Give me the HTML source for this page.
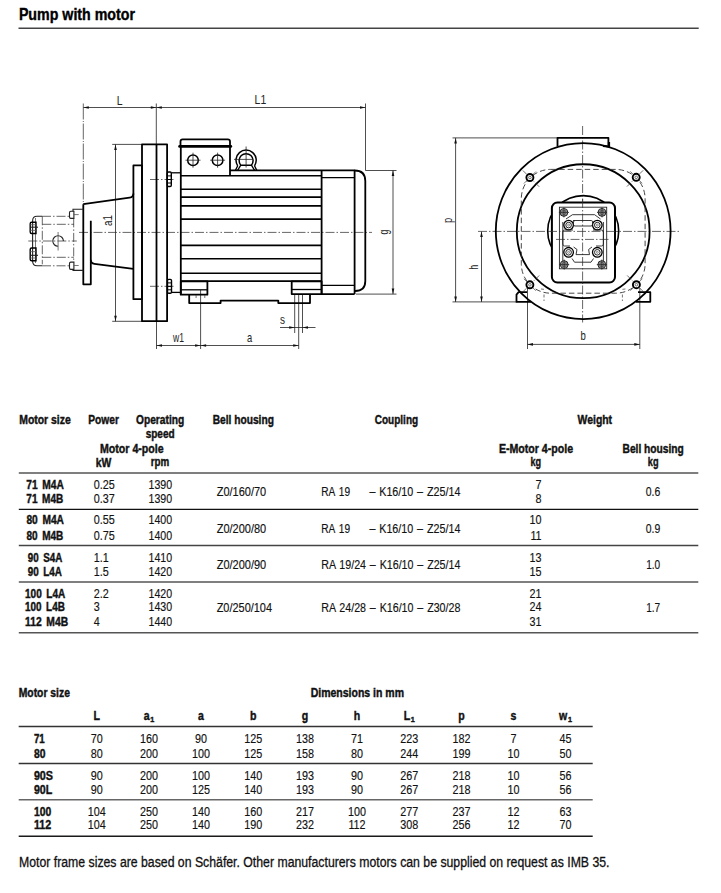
<!DOCTYPE html>
<html><head><meta charset="utf-8"><style>
html,body{margin:0;padding:0;background:#fff;}
svg{display:block;}
text{font-family:"Liberation Sans",sans-serif;}
</style></head><body>
<svg width="721" height="893" viewBox="0 0 721 893">
<rect width="721" height="893" fill="#fff"/>
<line x1="83.3" y1="107.5" x2="156.3" y2="107.5" stroke="#222" stroke-width="0.8" fill="none"/>
<polygon points="83.30,107.50 88.80,106.20 88.80,108.80" fill="#111"/>
<polygon points="156.30,107.50 150.80,106.20 150.80,108.80" fill="#111"/>
<line x1="156.3" y1="107.5" x2="365.5" y2="107.5" stroke="#222" stroke-width="0.8" fill="none"/>
<polygon points="156.30,107.50 161.80,106.20 161.80,108.80" fill="#111"/>
<polygon points="365.50,107.50 360.00,106.20 360.00,108.80" fill="#111"/>
<line x1="83.3" y1="103.5" x2="83.3" y2="204" stroke="#333" stroke-width="0.75" fill="none" stroke-dasharray="16 1.5 1 1.5"/>
<line x1="156.3" y1="103.5" x2="156.3" y2="144.4" stroke="#222" stroke-width="0.8" fill="none"/>
<line x1="365.5" y1="103.5" x2="365.5" y2="170.5" stroke="#222" stroke-width="0.8" fill="none"/>
<text x="116.70" y="104.7" font-size="13" textLength="5.80" lengthAdjust="spacingAndGlyphs" fill="#222">L</text>
<text x="254.60" y="104.4" font-size="13" textLength="11.60" lengthAdjust="spacingAndGlyphs" fill="#222">L1</text>
<line x1="112.2" y1="144.4" x2="142" y2="144.4" stroke="#222" stroke-width="0.8" fill="none"/>
<line x1="112.2" y1="321.3" x2="142" y2="321.3" stroke="#222" stroke-width="0.8" fill="none"/>
<line x1="115.5" y1="144.4" x2="115.5" y2="321.3" stroke="#222" stroke-width="0.8" fill="none"/>
<polygon points="115.50,144.40 114.20,149.90 116.80,149.90" fill="#111"/>
<polygon points="115.50,321.30 114.20,315.80 116.80,315.80" fill="#111"/>
<text transform="translate(111.9,226.0) rotate(-90)" x="0.00" y="0" font-size="13" textLength="11.00" lengthAdjust="spacingAndGlyphs" fill="#222">a1</text>
<line x1="365.5" y1="170.5" x2="396.5" y2="170.5" stroke="#222" stroke-width="0.8" fill="none"/>
<line x1="356" y1="294.1" x2="396.5" y2="294.1" stroke="#222" stroke-width="0.8" fill="none"/>
<line x1="393" y1="170.5" x2="393" y2="294.1" stroke="#222" stroke-width="0.8" fill="none"/>
<polygon points="393.00,170.50 391.70,176.00 394.30,176.00" fill="#111"/>
<polygon points="393.00,294.10 391.70,288.60 394.30,288.60" fill="#111"/>
<text transform="translate(388.2,234.6) rotate(-90)" x="0.00" y="0" font-size="13" textLength="4.80" lengthAdjust="spacingAndGlyphs" fill="#222">g</text>
<line x1="156.5" y1="321.2" x2="156.5" y2="349" stroke="#222" stroke-width="0.8" fill="none"/>
<line x1="200.6" y1="290" x2="200.6" y2="349" stroke="#222" stroke-width="0.8" fill="none"/>
<line x1="298.7" y1="294" x2="298.7" y2="349" stroke="#222" stroke-width="0.8" fill="none"/>
<line x1="156.5" y1="345.5" x2="298.7" y2="345.5" stroke="#222" stroke-width="0.8" fill="none"/>
<polygon points="156.50,345.50 162.00,344.20 162.00,346.80" fill="#111"/>
<polygon points="200.60,345.50 195.10,344.20 195.10,346.80" fill="#111"/>
<polygon points="200.60,345.50 206.10,344.20 206.10,346.80" fill="#111"/>
<polygon points="298.70,345.50 293.20,344.20 293.20,346.80" fill="#111"/>
<text x="173.02" y="342.0" font-size="13" textLength="10.99" lengthAdjust="spacingAndGlyphs" fill="#222">w1</text>
<text x="247.00" y="342.0" font-size="13" textLength="5.19" lengthAdjust="spacingAndGlyphs" fill="#222">a</text>
<line x1="294.7" y1="294.1" x2="294.7" y2="333" stroke="#222" stroke-width="0.8" fill="none"/>
<line x1="302.5" y1="294.1" x2="302.5" y2="333" stroke="#222" stroke-width="0.8" fill="none"/>
<line x1="280" y1="327.5" x2="315.5" y2="327.5" stroke="#222" stroke-width="0.8" fill="none"/>
<polygon points="294.70,327.50 289.20,326.20 289.20,328.80" fill="#111"/>
<polygon points="302.50,327.50 308.00,326.20 308.00,328.80" fill="#111"/>
<text x="280.00" y="324.0" font-size="13" textLength="5.00" lengthAdjust="spacingAndGlyphs" fill="#222">s</text>
<line x1="79" y1="232.4" x2="372" y2="232.4" stroke="#333" stroke-width="0.75" fill="none" stroke-dasharray="9 2 1.5 2"/>
<line x1="150" y1="179.5" x2="174" y2="179.5" stroke="#333" stroke-width="0.75" fill="none" stroke-dasharray="9 2 1.5 2"/>
<line x1="150" y1="286.3" x2="174" y2="286.3" stroke="#333" stroke-width="0.75" fill="none" stroke-dasharray="9 2 1.5 2"/>
<rect x="142" y="144.4" width="25.10" height="176.80" stroke="#000" stroke-width="1.8" fill="none" stroke-linejoin="round" />
<line x1="156.5" y1="144.4" x2="156.5" y2="321.2" stroke="#000" stroke-width="1.8" fill="none" stroke-linejoin="round"/>
<rect x="133.4" y="165.4" width="8.60" height="133.80" stroke="#000" stroke-width="1.8" fill="none" stroke-linejoin="round" />
<path d="M83.3 204.2 L129.6 197.7 Q133.4 197.2 133.4 193.5" stroke="#000" stroke-width="1.8" fill="none" stroke-linejoin="round"/>
<path d="M90.8 259.8 Q90.8 263.4 94.4 263.8 L133.4 268.8" stroke="#000" stroke-width="1.8" fill="none" stroke-linejoin="round"/>
<path d="M83.3 204.2 L83.3 284.3 L90.8 284.3 L90.8 220.7" stroke="#000" stroke-width="1.8" fill="none" stroke-linejoin="round"/>
<rect x="167.3" y="172" width="4" height="14.5" rx="1.2" stroke="#000" stroke-width="1.4" fill="none"/>
<line x1="167.3" y1="175.9" x2="171.3" y2="175.9" stroke="#000" stroke-width="1.0"/>
<line x1="167.3" y1="179.5" x2="171.3" y2="179.5" stroke="#000" stroke-width="1.0"/>
<line x1="167.3" y1="183.0" x2="171.3" y2="183.0" stroke="#000" stroke-width="1.0"/>
<line x1="171.3" y1="172.8" x2="180.5" y2="172.8" stroke="#000" stroke-width="1.3" fill="none"/>
<rect x="167.5" y="279.4" width="4" height="13.8" rx="1.2" stroke="#000" stroke-width="1.4" fill="none"/>
<line x1="167.5" y1="282.9" x2="171.5" y2="282.9" stroke="#000" stroke-width="1.0"/>
<line x1="167.5" y1="286.4" x2="171.5" y2="286.4" stroke="#000" stroke-width="1.0"/>
<line x1="167.5" y1="289.8" x2="171.5" y2="289.8" stroke="#000" stroke-width="1.0"/>
<line x1="171.5" y1="292.4" x2="180.5" y2="292.4" stroke="#000" stroke-width="1.3" fill="none"/>
<path d="M73.9 211.2 L70.8 211.2 Q69.5 211.2 69.5 212.5 L69.5 217.1 Q69.5 218.4 70.8 218.4 L73.9 218.4 Z" stroke="#222" stroke-width="1.1" fill="none"/>
<path d="M73 211.2 L73 209.2 L83.3 209.2" stroke="#222" stroke-width="1.1" fill="none"/>
<line x1="73.9" y1="214.6" x2="78.7" y2="214.6" stroke="#555" stroke-width="0.8" fill="none"/>
<path d="M73.9 262.1 L70.8 262.1 Q69.5 262.1 69.5 263.4 L69.5 268.1 Q69.5 269.4 70.8 269.4 L73.9 269.4 Z" stroke="#222" stroke-width="1.1" fill="none"/>
<path d="M73 269.4 L73 270.4 L83.3 270.4" stroke="#222" stroke-width="1.1" fill="none"/>
<line x1="73.9" y1="265.5" x2="78.7" y2="265.5" stroke="#555" stroke-width="0.8" fill="none"/>
<path d="M42 216.3 L37 216.3 Q32.6 216.3 32.6 221 L32.6 261 Q32.6 265.8 37 265.8 L42 265.8" stroke="#222" stroke-width="1.1" fill="none"/>
<line x1="42" y1="216.3" x2="69.5" y2="216.3" stroke="#333" stroke-width="0.75" fill="none" stroke-dasharray="9 2 1.5 2"/>
<line x1="42" y1="265.8" x2="69.5" y2="265.8" stroke="#333" stroke-width="0.75" fill="none" stroke-dasharray="9 2 1.5 2"/>
<line x1="35.5" y1="218" x2="35.5" y2="263" stroke="#555" stroke-width="0.8" fill="none"/>
<line x1="42.3" y1="216.3" x2="42.3" y2="264.3" stroke="#333" stroke-width="0.75" fill="none" stroke-dasharray="9 2 1.5 2"/>
<line x1="73.7" y1="218.4" x2="73.7" y2="262.1" stroke="#333" stroke-width="0.75" fill="none" stroke-dasharray="9 2 1.5 2"/>
<line x1="42.3" y1="224.3" x2="73.9" y2="224.3" stroke="#333" stroke-width="0.75" fill="none" stroke-dasharray="9 2 1.5 2"/>
<line x1="42.3" y1="257.3" x2="73.9" y2="257.3" stroke="#333" stroke-width="0.75" fill="none" stroke-dasharray="9 2 1.5 2"/>
<line x1="28.3" y1="241" x2="76.8" y2="241" stroke="#333" stroke-width="0.75" fill="none" stroke-dasharray="9 2 1.5 2"/>
<path d="M63.4 241 A5.3 5.3 0 1 0 58.1 246.3" stroke="#222" stroke-width="1.1" fill="none"/>
<line x1="58.1" y1="232" x2="58.1" y2="250.5" stroke="#555" stroke-width="0.8" fill="none"/>
<path d="M36 222.3 L31.6 222.3 Q30.2 222.3 30.2 223.8 L30.2 232.0 Q30.2 233.5 31.6 233.5 L36 233.5 Z" stroke="#000" stroke-width="1.4" fill="none"/>
<line x1="30.2" y1="227.2" x2="38" y2="227.2" stroke="#222" stroke-width="1.1" fill="none"/>
<line x1="30.2" y1="224.75" x2="36" y2="224.75" stroke="#555" stroke-width="0.8" fill="none"/>
<line x1="30.2" y1="230.35" x2="36" y2="230.35" stroke="#555" stroke-width="0.8" fill="none"/>
<path d="M36 248 L31.6 248 Q30.2 248 30.2 249.5 L30.2 259.2 Q30.2 260.7 31.6 260.7 L36 260.7 Z" stroke="#000" stroke-width="1.4" fill="none"/>
<line x1="30.2" y1="255.3" x2="38" y2="255.3" stroke="#222" stroke-width="1.1" fill="none"/>
<line x1="30.2" y1="251.65" x2="36" y2="251.65" stroke="#555" stroke-width="0.8" fill="none"/>
<line x1="30.2" y1="258.0" x2="36" y2="258.0" stroke="#555" stroke-width="0.8" fill="none"/>
<path d="M180.5 146.4 L180.5 141.6 Q180.5 139.4 182.7 139.4 L227.8 139.4 Q230 139.4 230 141.6 L230 146.4" stroke="#000" stroke-width="1.8" fill="none" stroke-linejoin="round"/>
<line x1="179.6" y1="146.4" x2="230.8" y2="146.4" stroke="#000" stroke-width="2.8" stroke-linecap="round"/>
<line x1="230" y1="146.4" x2="230" y2="175.6" stroke="#000" stroke-width="1.8" fill="none" stroke-linejoin="round"/>
<circle cx="193" cy="160.2" r="5.3" stroke="#000" stroke-width="1.5" fill="none" />
<line x1="185.5" y1="160.2" x2="200.5" y2="160.2" stroke="#222" stroke-width="0.8" fill="none"/>
<line x1="193" y1="152.7" x2="193" y2="167.7" stroke="#222" stroke-width="0.8" fill="none"/>
<circle cx="217.6" cy="160.2" r="5.3" stroke="#000" stroke-width="1.5" fill="none" />
<line x1="210.1" y1="160.2" x2="225.1" y2="160.2" stroke="#222" stroke-width="0.8" fill="none"/>
<line x1="217.6" y1="152.7" x2="217.6" y2="167.7" stroke="#222" stroke-width="0.8" fill="none"/>
<path d="M237.7 165.8 A10.1 10.1 0 1 1 254.5 165.8" stroke="#000" stroke-width="1.5" fill="none"/>
<path d="M240.8 165.2 A7 7 0 1 1 251.4 165.2 Z" stroke="#000" stroke-width="1.5" fill="none"/>
<path d="M235.4 170.4 L237.7 165.8 M256.8 170.4 L254.5 165.8 M237.6 170.4 L240.8 165.2 M254.6 170.4 L251.4 165.2" stroke="#000" stroke-width="1.3" fill="none"/>
<line x1="246.1" y1="146.5" x2="246.1" y2="167.5" stroke="#222" stroke-width="0.8" fill="none"/>
<line x1="234" y1="159.4" x2="252" y2="159.4" stroke="#222" stroke-width="0.8" fill="none"/>
<line x1="180.8" y1="146.4" x2="180.8" y2="294.7" stroke="#000" stroke-width="1.8" fill="none" stroke-linejoin="round"/>
<line x1="230" y1="170.3" x2="355" y2="170.3" stroke="#000" stroke-width="1.8" fill="none" stroke-linejoin="round"/>
<line x1="180.8" y1="175.8" x2="321.6" y2="175.8" stroke="#000" stroke-width="1.6"/>
<line x1="180.8" y1="189.3" x2="321.6" y2="189.3" stroke="#000" stroke-width="1.6"/>
<line x1="180.8" y1="197.1" x2="321.6" y2="197.1" stroke="#000" stroke-width="1.6"/>
<line x1="180.8" y1="205.9" x2="321.6" y2="205.9" stroke="#000" stroke-width="1.6"/>
<line x1="180.8" y1="219.1" x2="321.6" y2="219.1" stroke="#000" stroke-width="1.6"/>
<line x1="180.8" y1="245.4" x2="321.6" y2="245.4" stroke="#000" stroke-width="1.6"/>
<line x1="180.8" y1="258.8" x2="321.6" y2="258.8" stroke="#000" stroke-width="1.6"/>
<line x1="180.8" y1="273.3" x2="321.6" y2="273.3" stroke="#000" stroke-width="1.6"/>
<line x1="180.8" y1="281.1" x2="321.6" y2="281.1" stroke="#000" stroke-width="1.6"/>
<line x1="321.6" y1="170.5" x2="321.6" y2="294.1" stroke="#000" stroke-width="1.8" fill="none" stroke-linejoin="round"/>
<line x1="354.6" y1="170.5" x2="354.6" y2="294.1" stroke="#000" stroke-width="1.8" fill="none" stroke-linejoin="round"/>
<line x1="321.6" y1="177.6" x2="354.6" y2="177.6" stroke="#000" stroke-width="1.3" fill="none"/>
<line x1="321.6" y1="285.3" x2="354.6" y2="285.3" stroke="#000" stroke-width="1.3" fill="none"/>
<line x1="321.6" y1="294.1" x2="354.6" y2="294.1" stroke="#000" stroke-width="1.8" fill="none" stroke-linejoin="round"/>
<path d="M354.6 170.5 Q365.3 170.5 365.3 181 L365.3 281 Q365.3 291 355 291" stroke="#000" stroke-width="1.8" fill="none" stroke-linejoin="round"/>
<rect x="180.8" y="281.3" width="26.60" height="13.40" stroke="#000" stroke-width="1.8" fill="none" stroke-linejoin="round" />
<line x1="180.8" y1="289.8" x2="207.4" y2="289.8" stroke="#000" stroke-width="1.3" fill="none"/>
<rect x="291.7" y="281.3" width="29.90" height="12.80" stroke="#000" stroke-width="1.8" fill="none" stroke-linejoin="round" />
<line x1="291.7" y1="289.5" x2="321.6" y2="289.5" stroke="#000" stroke-width="1.3" fill="none"/>
<path d="M189.2 294.7 L189.2 303.1 L220.6 303.1 L220.6 300.6 L278.3 300.6 L278.3 303.1 L310 303.1 L310 294.1" stroke="#000" stroke-width="1.8" fill="none" stroke-linejoin="round"/>
<line x1="196.1" y1="295" x2="196.1" y2="300" stroke="#444" stroke-width="0.75" fill="none" stroke-dasharray="3 2"/>
<line x1="204.8" y1="295" x2="204.8" y2="300" stroke="#444" stroke-width="0.75" fill="none" stroke-dasharray="3 2"/>
<line x1="452.5" y1="137.9" x2="557.5" y2="137.9" stroke="#222" stroke-width="0.8" fill="none"/>
<line x1="452.5" y1="301.9" x2="516.5" y2="301.9" stroke="#222" stroke-width="0.8" fill="none"/>
<line x1="455.6" y1="137.9" x2="455.6" y2="301.9" stroke="#222" stroke-width="0.8" fill="none"/>
<polygon points="455.60,137.90 454.30,143.40 456.90,143.40" fill="#111"/>
<polygon points="455.60,301.90 454.30,296.40 456.90,296.40" fill="#111"/>
<text transform="translate(451.8,223.0) rotate(-90)" x="0.00" y="0" font-size="13" textLength="5.20" lengthAdjust="spacingAndGlyphs" fill="#222">p</text>
<line x1="481.5" y1="231.5" x2="481.5" y2="301.9" stroke="#222" stroke-width="0.8" fill="none"/>
<polygon points="481.50,231.50 480.20,237.00 482.80,237.00" fill="#111"/>
<polygon points="481.50,301.90 480.20,296.40 482.80,296.40" fill="#111"/>
<text transform="translate(477.6,269.7) rotate(-90)" x="0.00" y="0" font-size="13" textLength="5.00" lengthAdjust="spacingAndGlyphs" fill="#222">h</text>
<line x1="527.5" y1="288" x2="527.5" y2="349" stroke="#222" stroke-width="0.8" fill="none"/>
<line x1="639.8" y1="288" x2="639.8" y2="349" stroke="#222" stroke-width="0.8" fill="none"/>
<line x1="527.5" y1="344.4" x2="639.8" y2="344.4" stroke="#222" stroke-width="0.8" fill="none"/>
<polygon points="527.50,344.40 533.00,343.10 533.00,345.70" fill="#111"/>
<polygon points="639.80,344.40 634.30,343.10 634.30,345.70" fill="#111"/>
<text x="580.60" y="340.4" font-size="13" textLength="5.30" lengthAdjust="spacingAndGlyphs" fill="#222">b</text>
<line x1="478" y1="231.4" x2="681" y2="231.4" stroke="#333" stroke-width="0.75" fill="none" stroke-dasharray="9 2 1.5 2"/>
<line x1="582.6" y1="126" x2="582.6" y2="322.5" stroke="#333" stroke-width="0.75" fill="none" stroke-dasharray="9 2 1.5 2"/>
<path d="M527 292.2 L518.6 292.2 L516.5 294.6 L516.5 301.9 L531 301.9" stroke="#000" stroke-width="1.8" fill="none" stroke-linejoin="round"/>
<path d="M638 292.2 L650.3 292.2 L650.3 301.8 L636 301.8" stroke="#000" stroke-width="1.8" fill="none" stroke-linejoin="round"/>
<path d="M544 294.5 L544 301 M541 289 L546 289.5 M622.4 294.5 L622.4 301 M625.4 289 L620.4 289.5" stroke="#444" stroke-width="0.75" fill="none" stroke-dasharray="3 2"/>
<path d="M557.5 146.6 L557.5 137.8 L608.4 137.8 L608.4 145.8" stroke="#000" stroke-width="1.8" fill="none" stroke-linejoin="round"/>
<path d="M603 146 L609 146.5 L609 142" stroke="#000" stroke-width="2.2" fill="none"/>
<ellipse cx="583.2" cy="231.1" rx="87.4" ry="88.0" stroke="#000" stroke-width="1.8" fill="none" stroke-linejoin="round"/>
<ellipse cx="583.2" cy="231.2" rx="66.4" ry="66.95" stroke="#000" stroke-width="1.8" fill="none" stroke-linejoin="round"/>
<rect x="521.3" y="169.4" width="123.8" height="123.8" rx="29.4" ry="29.4" stroke="#333" stroke-width="0.9" fill="none" stroke-dasharray="5.5 3"/>
<circle cx="583.2" cy="231.1" r="35.5" stroke="#000" stroke-width="1.6" fill="none" />
<path d="M522.9 170.5 L539.9 187.5" stroke="#333" stroke-width="0.7" stroke-dasharray="5 1.5 1 1.5"/>
<path d="M535.9 171.5 L523.9 183.5" stroke="#444" stroke-width="0.7"/>
<circle cx="529.9" cy="177.5" r="3.5" stroke="#000" stroke-width="1.9" fill="#fff" />
<circle cx="529.9" cy="177.5" r="1.3" stroke="#333" stroke-width="0.7" fill="none" />
<path d="M643.2 170.3 L626.2 187.3" stroke="#333" stroke-width="0.7" stroke-dasharray="5 1.5 1 1.5"/>
<path d="M630.2 171.3 L642.2 183.3" stroke="#444" stroke-width="0.7"/>
<circle cx="636.2" cy="177.3" r="3.5" stroke="#000" stroke-width="1.9" fill="#fff" />
<circle cx="636.2" cy="177.3" r="1.3" stroke="#333" stroke-width="0.7" fill="none" />
<path d="M522.9 291.8 L539.9 274.8" stroke="#333" stroke-width="0.7" stroke-dasharray="5 1.5 1 1.5"/>
<path d="M535.9 290.8 L523.9 278.8" stroke="#444" stroke-width="0.7"/>
<circle cx="529.9" cy="284.8" r="3.5" stroke="#000" stroke-width="1.9" fill="#fff" />
<circle cx="529.9" cy="284.8" r="1.3" stroke="#333" stroke-width="0.7" fill="none" />
<path d="M643.4 291.7 L626.4 274.7" stroke="#333" stroke-width="0.7" stroke-dasharray="5 1.5 1 1.5"/>
<path d="M630.4 290.7 L642.4 278.7" stroke="#444" stroke-width="0.7"/>
<circle cx="636.4" cy="284.7" r="3.5" stroke="#000" stroke-width="1.9" fill="#fff" />
<circle cx="636.4" cy="284.7" r="1.3" stroke="#333" stroke-width="0.7" fill="none" />
<rect x="551.9" y="202.5" width="63.1" height="80" rx="5.5" stroke="#000" stroke-width="2" fill="#fff"/>
<rect x="559.4" y="207.2" width="47.30" height="61.60" stroke="#222" stroke-width="0.9" fill="none" />
<line x1="562.8" y1="222" x2="562.8" y2="262" stroke="#222" stroke-width="0.9" fill="none"/>
<line x1="603.4" y1="222" x2="603.4" y2="262" stroke="#222" stroke-width="0.9" fill="none"/>
<line x1="582.6" y1="199" x2="582.6" y2="286" stroke="#333" stroke-width="0.75" fill="none" stroke-dasharray="9 2 1.5 2"/>
<line x1="548" y1="231.4" x2="618" y2="231.4" stroke="#333" stroke-width="0.75" fill="none" stroke-dasharray="9 2 1.5 2"/>
<line x1="556" y1="239.4" x2="610" y2="239.4" stroke="#333" stroke-width="0.75" fill="none" stroke-dasharray="9 2 1.5 2"/>
<circle cx="563.9" cy="212.4" r="3.9" stroke="#222" stroke-width="1.0" fill="#aaa" />
<circle cx="563.9" cy="212.4" r="2.2" stroke="#444" stroke-width="0.7" fill="none" />
<path d="M561.1 209.6 L566.6999999999999 215.20000000000002 M561.1 215.20000000000002 L566.6999999999999 209.6" stroke="#555" stroke-width="0.5"/>
<line x1="558.9" y1="212.4" x2="568.9" y2="212.4" stroke="#222" stroke-width="0.8" fill="none"/>
<line x1="563.9" y1="207.4" x2="563.9" y2="217.4" stroke="#222" stroke-width="0.8" fill="none"/>
<circle cx="602.0" cy="212.4" r="3.9" stroke="#222" stroke-width="1.0" fill="#aaa" />
<circle cx="602.0" cy="212.4" r="2.2" stroke="#444" stroke-width="0.7" fill="none" />
<path d="M599.2 209.6 L604.8 215.20000000000002 M599.2 215.20000000000002 L604.8 209.6" stroke="#555" stroke-width="0.5"/>
<line x1="597.0" y1="212.4" x2="607.0" y2="212.4" stroke="#222" stroke-width="0.8" fill="none"/>
<line x1="602.0" y1="207.4" x2="602.0" y2="217.4" stroke="#222" stroke-width="0.8" fill="none"/>
<circle cx="564.2" cy="264.6" r="3.9" stroke="#222" stroke-width="1.0" fill="#aaa" />
<circle cx="564.2" cy="264.6" r="2.2" stroke="#444" stroke-width="0.7" fill="none" />
<path d="M561.4000000000001 261.8 L567.0 267.40000000000003 M561.4000000000001 267.40000000000003 L567.0 261.8" stroke="#555" stroke-width="0.5"/>
<line x1="559.2" y1="264.6" x2="569.2" y2="264.6" stroke="#222" stroke-width="0.8" fill="none"/>
<line x1="564.2" y1="259.6" x2="564.2" y2="269.6" stroke="#222" stroke-width="0.8" fill="none"/>
<circle cx="601.8" cy="264.6" r="3.9" stroke="#222" stroke-width="1.0" fill="#aaa" />
<circle cx="601.8" cy="264.6" r="2.2" stroke="#444" stroke-width="0.7" fill="none" />
<path d="M599.0 261.8 L604.5999999999999 267.40000000000003 M599.0 267.40000000000003 L604.5999999999999 261.8" stroke="#555" stroke-width="0.5"/>
<line x1="596.8" y1="264.6" x2="606.8" y2="264.6" stroke="#222" stroke-width="0.8" fill="none"/>
<line x1="601.8" y1="259.6" x2="601.8" y2="269.6" stroke="#222" stroke-width="0.8" fill="none"/>
<circle cx="568.6" cy="225.1" r="4.8" stroke="#000" stroke-width="1.3" fill="none" />
<circle cx="568.6" cy="225.1" r="2.8" stroke="#222" stroke-width="1.0" fill="none" />
<circle cx="568.6" cy="225.1" r="1.0" stroke="#444" stroke-width="0.6" fill="none" />
<circle cx="597.3" cy="225.1" r="4.8" stroke="#000" stroke-width="1.3" fill="none" />
<circle cx="597.3" cy="225.1" r="2.8" stroke="#222" stroke-width="1.0" fill="none" />
<circle cx="597.3" cy="225.1" r="1.0" stroke="#444" stroke-width="0.6" fill="none" />
<circle cx="568.6" cy="252.3" r="4.8" stroke="#000" stroke-width="1.3" fill="none" />
<circle cx="568.6" cy="252.3" r="2.8" stroke="#222" stroke-width="1.0" fill="none" />
<circle cx="568.6" cy="252.3" r="1.0" stroke="#444" stroke-width="0.6" fill="none" />
<circle cx="597.3" cy="252.3" r="4.8" stroke="#000" stroke-width="1.3" fill="none" />
<circle cx="597.3" cy="252.3" r="2.8" stroke="#222" stroke-width="1.0" fill="none" />
<circle cx="597.3" cy="252.3" r="1.0" stroke="#444" stroke-width="0.6" fill="none" />
<path d="M566 219 L572.5 214.7 L594.6 214.7 L600.5 219 M573 220.5 L591.5 220.5 Q592.5 220.5 592.5 222 L592.5 224.6 Q592.5 226 591 226 L575 226 Q573.5 226 573.5 224.6 L573.5 222 Q573.5 220.5 575 220.5" stroke="#222" stroke-width="0.9" fill="none"/>
<path d="M573 230 L564.5 230 Q562.8 230 562.8 232 L562.8 244 Q562.8 246 564.5 246 L570 246 M593 230 L601.5 230 Q603.4 230 603.4 232 L603.4 244 Q603.4 246 601.5 246 L596 246" stroke="#222" stroke-width="0.9" fill="none"/>
<path d="M573.6 247 L577 249.5 L576 254.6 L589.5 254.6 L588.6 249.5 L592 247" stroke="#222" stroke-width="0.9" fill="none"/>
<path d="M572 258.5 L574.5 262.2 L591 262.2 L593.5 258.5" stroke="#222" stroke-width="0.9" fill="none"/>
<text x="18.90" y="19.90" font-size="17" font-weight="bold" textLength="116.10" lengthAdjust="spacingAndGlyphs" fill="#000" stroke="#000" stroke-width="0.4">Pump with motor</text>
<line x1="18.5" y1="28.3" x2="698.7" y2="28.3" stroke="#444" stroke-width="1.4"/>
<text x="19.20" y="423.70" font-size="12" font-weight="bold" textLength="51.60" lengthAdjust="spacingAndGlyphs" fill="#111" stroke="#111" stroke-width="0.4">Motor size</text>
<text x="88.30" y="423.70" font-size="12" font-weight="bold" textLength="30.60" lengthAdjust="spacingAndGlyphs" fill="#111" stroke="#111" stroke-width="0.4">Power</text>
<text x="136.00" y="423.60" font-size="12" font-weight="bold" textLength="48.20" lengthAdjust="spacingAndGlyphs" fill="#111" stroke="#111" stroke-width="0.4">Operating</text>
<text x="145.70" y="437.50" font-size="12" font-weight="bold" textLength="28.90" lengthAdjust="spacingAndGlyphs" fill="#111" stroke="#111" stroke-width="0.4">speed</text>
<text x="212.70" y="423.70" font-size="12" font-weight="bold" textLength="61.20" lengthAdjust="spacingAndGlyphs" fill="#111" stroke="#111" stroke-width="0.4">Bell housing</text>
<text x="374.80" y="423.50" font-size="12" font-weight="bold" textLength="43.30" lengthAdjust="spacingAndGlyphs" fill="#111" stroke="#111" stroke-width="0.4">Coupling</text>
<text x="577.60" y="423.80" font-size="12" font-weight="bold" textLength="34.50" lengthAdjust="spacingAndGlyphs" fill="#111" stroke="#111" stroke-width="0.4">Weight</text>
<text x="100.00" y="452.60" font-size="12" font-weight="bold" textLength="63.70" lengthAdjust="spacingAndGlyphs" fill="#111" stroke="#111" stroke-width="0.4">Motor 4-pole</text>
<text x="498.90" y="452.50" font-size="12" font-weight="bold" textLength="74.20" lengthAdjust="spacingAndGlyphs" fill="#111" stroke="#111" stroke-width="0.4">E-Motor 4-pole</text>
<text x="622.50" y="452.50" font-size="12" font-weight="bold" textLength="61.30" lengthAdjust="spacingAndGlyphs" fill="#111" stroke="#111" stroke-width="0.4">Bell housing</text>
<text x="95.80" y="466.70" font-size="12" font-weight="bold" textLength="15.60" lengthAdjust="spacingAndGlyphs" fill="#111" stroke="#111" stroke-width="0.4">kW</text>
<text x="150.70" y="466.30" font-size="12" font-weight="bold" textLength="18.50" lengthAdjust="spacingAndGlyphs" fill="#111" stroke="#111" stroke-width="0.4">rpm</text>
<text x="530.40" y="466.40" font-size="12" font-weight="bold" textLength="10.60" lengthAdjust="spacingAndGlyphs" fill="#111" stroke="#111" stroke-width="0.4">kg</text>
<text x="647.80" y="466.40" font-size="12" font-weight="bold" textLength="10.70" lengthAdjust="spacingAndGlyphs" fill="#111" stroke="#111" stroke-width="0.4">kg</text>
<line x1="18.8" y1="473.1" x2="698.3" y2="473.1" stroke="#555" stroke-width="1.5"/>
<line x1="18.8" y1="509.4" x2="698.3" y2="509.4" stroke="#111" stroke-width="1.4"/>
<line x1="18.8" y1="545.6" x2="698.3" y2="545.6" stroke="#444" stroke-width="1.5"/>
<line x1="18.8" y1="582.1" x2="698.3" y2="582.1" stroke="#555" stroke-width="1.5"/>
<line x1="18.8" y1="632.7" x2="698.3" y2="632.7" stroke="#555" stroke-width="1.5"/>
<text x="26.30" y="488.80" font-size="12" font-weight="bold" textLength="37.61" lengthAdjust="spacingAndGlyphs" fill="#111" stroke="#111" stroke-width="0.4" word-spacing="2.2">71 M4A</text>
<text x="93.80" y="488.80" font-size="12" font-weight="normal" textLength="21.02" lengthAdjust="spacingAndGlyphs" fill="#111" stroke="#111" stroke-width="0.15">0.25</text>
<text x="148.50" y="488.80" font-size="12" font-weight="normal" textLength="23.60" lengthAdjust="spacingAndGlyphs" fill="#111" stroke="#111" stroke-width="0.15">1390</text>
<text x="535.60" y="488.80" font-size="12" font-weight="normal" textLength="6.01" lengthAdjust="spacingAndGlyphs" fill="#111" stroke="#111" stroke-width="0.15">7</text>
<text x="26.30" y="502.70" font-size="12" font-weight="bold" textLength="37.01" lengthAdjust="spacingAndGlyphs" fill="#111" stroke="#111" stroke-width="0.4" word-spacing="2.2">71 M4B</text>
<text x="93.80" y="502.70" font-size="12" font-weight="normal" textLength="21.02" lengthAdjust="spacingAndGlyphs" fill="#111" stroke="#111" stroke-width="0.15">0.37</text>
<text x="148.50" y="502.70" font-size="12" font-weight="normal" textLength="23.60" lengthAdjust="spacingAndGlyphs" fill="#111" stroke="#111" stroke-width="0.15">1390</text>
<text x="535.60" y="502.70" font-size="12" font-weight="normal" textLength="6.01" lengthAdjust="spacingAndGlyphs" fill="#111" stroke="#111" stroke-width="0.15">8</text>
<text x="26.40" y="524.40" font-size="12" font-weight="bold" textLength="37.51" lengthAdjust="spacingAndGlyphs" fill="#111" stroke="#111" stroke-width="0.4" word-spacing="2.2">80 M4A</text>
<text x="93.80" y="524.40" font-size="12" font-weight="normal" textLength="21.02" lengthAdjust="spacingAndGlyphs" fill="#111" stroke="#111" stroke-width="0.15">0.55</text>
<text x="148.50" y="524.40" font-size="12" font-weight="normal" textLength="23.60" lengthAdjust="spacingAndGlyphs" fill="#111" stroke="#111" stroke-width="0.15">1400</text>
<text x="529.59" y="524.40" font-size="12" font-weight="normal" textLength="12.01" lengthAdjust="spacingAndGlyphs" fill="#111" stroke="#111" stroke-width="0.15">10</text>
<text x="26.40" y="539.70" font-size="12" font-weight="bold" textLength="36.91" lengthAdjust="spacingAndGlyphs" fill="#111" stroke="#111" stroke-width="0.4" word-spacing="2.2">80 M4B</text>
<text x="93.80" y="539.70" font-size="12" font-weight="normal" textLength="21.02" lengthAdjust="spacingAndGlyphs" fill="#111" stroke="#111" stroke-width="0.15">0.75</text>
<text x="148.50" y="539.70" font-size="12" font-weight="normal" textLength="23.60" lengthAdjust="spacingAndGlyphs" fill="#111" stroke="#111" stroke-width="0.15">1400</text>
<text x="530.39" y="539.70" font-size="12" font-weight="normal" textLength="11.21" lengthAdjust="spacingAndGlyphs" fill="#111" stroke="#111" stroke-width="0.15">11</text>
<text x="27.80" y="561.50" font-size="12" font-weight="bold" textLength="34.50" lengthAdjust="spacingAndGlyphs" fill="#111" stroke="#111" stroke-width="0.4" word-spacing="2.2">90 S4A</text>
<text x="93.80" y="561.50" font-size="12" font-weight="normal" textLength="15.01" lengthAdjust="spacingAndGlyphs" fill="#111" stroke="#111" stroke-width="0.15">1.1</text>
<text x="148.50" y="561.50" font-size="12" font-weight="normal" textLength="23.60" lengthAdjust="spacingAndGlyphs" fill="#111" stroke="#111" stroke-width="0.15">1410</text>
<text x="529.59" y="561.50" font-size="12" font-weight="normal" textLength="12.01" lengthAdjust="spacingAndGlyphs" fill="#111" stroke="#111" stroke-width="0.15">13</text>
<text x="27.80" y="575.60" font-size="12" font-weight="bold" textLength="34.20" lengthAdjust="spacingAndGlyphs" fill="#111" stroke="#111" stroke-width="0.4" word-spacing="2.2">90 L4A</text>
<text x="93.80" y="575.60" font-size="12" font-weight="normal" textLength="15.01" lengthAdjust="spacingAndGlyphs" fill="#111" stroke="#111" stroke-width="0.15">1.5</text>
<text x="148.50" y="575.60" font-size="12" font-weight="normal" textLength="23.60" lengthAdjust="spacingAndGlyphs" fill="#111" stroke="#111" stroke-width="0.15">1420</text>
<text x="529.59" y="575.60" font-size="12" font-weight="normal" textLength="12.01" lengthAdjust="spacingAndGlyphs" fill="#111" stroke="#111" stroke-width="0.15">15</text>
<text x="25.00" y="597.70" font-size="12" font-weight="bold" textLength="40.30" lengthAdjust="spacingAndGlyphs" fill="#111" stroke="#111" stroke-width="0.4" word-spacing="2.2">100 L4A</text>
<text x="93.80" y="597.70" font-size="12" font-weight="normal" textLength="15.01" lengthAdjust="spacingAndGlyphs" fill="#111" stroke="#111" stroke-width="0.15">2.2</text>
<text x="148.50" y="597.70" font-size="12" font-weight="normal" textLength="23.60" lengthAdjust="spacingAndGlyphs" fill="#111" stroke="#111" stroke-width="0.15">1420</text>
<text x="529.59" y="597.70" font-size="12" font-weight="normal" textLength="12.01" lengthAdjust="spacingAndGlyphs" fill="#111" stroke="#111" stroke-width="0.15">21</text>
<text x="25.00" y="611.40" font-size="12" font-weight="bold" textLength="39.80" lengthAdjust="spacingAndGlyphs" fill="#111" stroke="#111" stroke-width="0.4" word-spacing="2.2">100 L4B</text>
<text x="93.80" y="611.40" font-size="12" font-weight="normal" textLength="6.01" lengthAdjust="spacingAndGlyphs" fill="#111" stroke="#111" stroke-width="0.15">3</text>
<text x="148.50" y="611.40" font-size="12" font-weight="normal" textLength="23.60" lengthAdjust="spacingAndGlyphs" fill="#111" stroke="#111" stroke-width="0.15">1430</text>
<text x="529.59" y="611.40" font-size="12" font-weight="normal" textLength="12.01" lengthAdjust="spacingAndGlyphs" fill="#111" stroke="#111" stroke-width="0.15">24</text>
<text x="25.00" y="626.20" font-size="12" font-weight="bold" textLength="43.11" lengthAdjust="spacingAndGlyphs" fill="#111" stroke="#111" stroke-width="0.4" word-spacing="2.2">112 M4B</text>
<text x="93.80" y="626.20" font-size="12" font-weight="normal" textLength="6.01" lengthAdjust="spacingAndGlyphs" fill="#111" stroke="#111" stroke-width="0.15">4</text>
<text x="148.50" y="626.20" font-size="12" font-weight="normal" textLength="23.60" lengthAdjust="spacingAndGlyphs" fill="#111" stroke="#111" stroke-width="0.15">1440</text>
<text x="529.59" y="626.20" font-size="12" font-weight="normal" textLength="12.01" lengthAdjust="spacingAndGlyphs" fill="#111" stroke="#111" stroke-width="0.15">31</text>
<text x="216.70" y="495.80" font-size="12" font-weight="normal" textLength="49.50" lengthAdjust="spacingAndGlyphs" fill="#111" stroke="#111" stroke-width="0.15">Z0/160/70</text>
<text x="216.70" y="532.70" font-size="12" font-weight="normal" textLength="49.50" lengthAdjust="spacingAndGlyphs" fill="#111" stroke="#111" stroke-width="0.15">Z0/200/80</text>
<text x="216.70" y="568.70" font-size="12" font-weight="normal" textLength="49.50" lengthAdjust="spacingAndGlyphs" fill="#111" stroke="#111" stroke-width="0.15">Z0/200/90</text>
<text x="216.70" y="611.60" font-size="12" font-weight="normal" textLength="55.30" lengthAdjust="spacingAndGlyphs" fill="#111" stroke="#111" stroke-width="0.15">Z0/250/104</text>
<text x="321.20" y="495.50" font-size="12" font-weight="normal" textLength="28.90" lengthAdjust="spacingAndGlyphs" fill="#111" stroke="#111" stroke-width="0.15" word-spacing="1.5">RA 19</text>
<text x="369.40" y="495.50" font-size="12" font-weight="normal" textLength="90.99" lengthAdjust="spacingAndGlyphs" fill="#111" stroke="#111" stroke-width="0.15" word-spacing="1.0">– K16/10 – Z25/14</text>
<text x="321.20" y="532.60" font-size="12" font-weight="normal" textLength="28.90" lengthAdjust="spacingAndGlyphs" fill="#111" stroke="#111" stroke-width="0.15" word-spacing="1.5">RA 19</text>
<text x="369.40" y="532.60" font-size="12" font-weight="normal" textLength="90.99" lengthAdjust="spacingAndGlyphs" fill="#111" stroke="#111" stroke-width="0.15" word-spacing="1.0">– K16/10 – Z25/14</text>
<text x="321.20" y="569.00" font-size="12" font-weight="normal" textLength="139.20" lengthAdjust="spacingAndGlyphs" fill="#111" stroke="#111" stroke-width="0.15" word-spacing="1.0">RA 19/24 – K16/10 – Z25/14</text>
<text x="321.20" y="611.60" font-size="12" font-weight="normal" textLength="139.20" lengthAdjust="spacingAndGlyphs" fill="#111" stroke="#111" stroke-width="0.15" word-spacing="1.0">RA 24/28 – K16/10 – Z30/28</text>
<text x="645.70" y="495.80" font-size="12" font-weight="normal" textLength="14.50" lengthAdjust="spacingAndGlyphs" fill="#111" stroke="#111" stroke-width="0.15">0.6</text>
<text x="645.70" y="532.70" font-size="12" font-weight="normal" textLength="14.50" lengthAdjust="spacingAndGlyphs" fill="#111" stroke="#111" stroke-width="0.15">0.9</text>
<text x="646.20" y="568.80" font-size="12" font-weight="normal" textLength="14.00" lengthAdjust="spacingAndGlyphs" fill="#111" stroke="#111" stroke-width="0.15">1.0</text>
<text x="646.20" y="611.80" font-size="12" font-weight="normal" textLength="14.00" lengthAdjust="spacingAndGlyphs" fill="#111" stroke="#111" stroke-width="0.15">1.7</text>
<text x="18.70" y="697.00" font-size="12" font-weight="bold" textLength="51.20" lengthAdjust="spacingAndGlyphs" fill="#111" stroke="#111" stroke-width="0.4">Motor size</text>
<text x="310.70" y="696.80" font-size="12" font-weight="bold" textLength="93.30" lengthAdjust="spacingAndGlyphs" fill="#111" stroke="#111" stroke-width="0.4">Dimensions in mm</text>
<text x="93.47" y="719.50" font-size="12" font-weight="bold" textLength="6.45" lengthAdjust="spacingAndGlyphs" fill="#111" stroke="#111" stroke-width="0.4">L</text>
<text x="143.73" y="719.50" font-size="12" font-weight="bold" textLength="5.87" lengthAdjust="spacingAndGlyphs" fill="#111" stroke="#111" stroke-width="0.4">a</text>
<text x="150.27" y="721.50" font-size="8" font-weight="bold" textLength="4.00" lengthAdjust="spacingAndGlyphs" fill="#111" stroke="#111" stroke-width="0.4">1</text>
<text x="198.03" y="719.50" font-size="12" font-weight="bold" textLength="5.87" lengthAdjust="spacingAndGlyphs" fill="#111" stroke="#111" stroke-width="0.4">a</text>
<text x="250.07" y="719.50" font-size="12" font-weight="bold" textLength="6.45" lengthAdjust="spacingAndGlyphs" fill="#111" stroke="#111" stroke-width="0.4">b</text>
<text x="301.77" y="719.50" font-size="12" font-weight="bold" textLength="6.45" lengthAdjust="spacingAndGlyphs" fill="#111" stroke="#111" stroke-width="0.4">g</text>
<text x="353.77" y="719.50" font-size="12" font-weight="bold" textLength="6.45" lengthAdjust="spacingAndGlyphs" fill="#111" stroke="#111" stroke-width="0.4">h</text>
<text x="403.77" y="719.50" font-size="12" font-weight="bold" textLength="6.45" lengthAdjust="spacingAndGlyphs" fill="#111" stroke="#111" stroke-width="0.4">L</text>
<text x="410.82" y="721.50" font-size="8" font-weight="bold" textLength="4.00" lengthAdjust="spacingAndGlyphs" fill="#111" stroke="#111" stroke-width="0.4">1</text>
<text x="458.27" y="719.50" font-size="12" font-weight="bold" textLength="6.45" lengthAdjust="spacingAndGlyphs" fill="#111" stroke="#111" stroke-width="0.4">p</text>
<text x="510.56" y="719.50" font-size="12" font-weight="bold" textLength="5.87" lengthAdjust="spacingAndGlyphs" fill="#111" stroke="#111" stroke-width="0.4">s</text>
<text x="559.10" y="719.50" font-size="12" font-weight="bold" textLength="8.21" lengthAdjust="spacingAndGlyphs" fill="#111" stroke="#111" stroke-width="0.4">w</text>
<text x="567.93" y="721.50" font-size="8" font-weight="bold" textLength="4.00" lengthAdjust="spacingAndGlyphs" fill="#111" stroke="#111" stroke-width="0.4">1</text>
<line x1="18.7" y1="726.4" x2="592.7" y2="726.4" stroke="#333" stroke-width="1.5"/>
<line x1="18.7" y1="763.5" x2="592.7" y2="763.5" stroke="#333" stroke-width="1.5"/>
<line x1="18.7" y1="799.8" x2="592.7" y2="799.8" stroke="#666" stroke-width="1.5"/>
<line x1="18.7" y1="836.3" x2="592.7" y2="836.3" stroke="#1a1a1a" stroke-width="1.5"/>
<text x="33.90" y="742.80" font-size="12" font-weight="bold" textLength="10.80" lengthAdjust="spacingAndGlyphs" fill="#111" stroke="#111" stroke-width="0.4">71</text>
<text x="90.70" y="742.80" font-size="12" font-weight="normal" textLength="12.01" lengthAdjust="spacingAndGlyphs" fill="#111" stroke="#111" stroke-width="0.15">70</text>
<text x="139.99" y="742.80" font-size="12" font-weight="normal" textLength="18.02" lengthAdjust="spacingAndGlyphs" fill="#111" stroke="#111" stroke-width="0.15">160</text>
<text x="195.00" y="742.80" font-size="12" font-weight="normal" textLength="12.01" lengthAdjust="spacingAndGlyphs" fill="#111" stroke="#111" stroke-width="0.15">90</text>
<text x="244.29" y="742.80" font-size="12" font-weight="normal" textLength="18.02" lengthAdjust="spacingAndGlyphs" fill="#111" stroke="#111" stroke-width="0.15">125</text>
<text x="295.99" y="742.80" font-size="12" font-weight="normal" textLength="18.02" lengthAdjust="spacingAndGlyphs" fill="#111" stroke="#111" stroke-width="0.15">138</text>
<text x="351.00" y="742.80" font-size="12" font-weight="normal" textLength="12.01" lengthAdjust="spacingAndGlyphs" fill="#111" stroke="#111" stroke-width="0.15">71</text>
<text x="400.29" y="742.80" font-size="12" font-weight="normal" textLength="18.02" lengthAdjust="spacingAndGlyphs" fill="#111" stroke="#111" stroke-width="0.15">223</text>
<text x="452.49" y="742.80" font-size="12" font-weight="normal" textLength="18.02" lengthAdjust="spacingAndGlyphs" fill="#111" stroke="#111" stroke-width="0.15">182</text>
<text x="510.50" y="742.80" font-size="12" font-weight="normal" textLength="6.01" lengthAdjust="spacingAndGlyphs" fill="#111" stroke="#111" stroke-width="0.15">7</text>
<text x="559.50" y="742.80" font-size="12" font-weight="normal" textLength="12.01" lengthAdjust="spacingAndGlyphs" fill="#111" stroke="#111" stroke-width="0.15">45</text>
<text x="33.90" y="757.60" font-size="12" font-weight="bold" textLength="11.50" lengthAdjust="spacingAndGlyphs" fill="#111" stroke="#111" stroke-width="0.4">80</text>
<text x="90.70" y="757.60" font-size="12" font-weight="normal" textLength="12.01" lengthAdjust="spacingAndGlyphs" fill="#111" stroke="#111" stroke-width="0.15">80</text>
<text x="139.99" y="757.60" font-size="12" font-weight="normal" textLength="18.02" lengthAdjust="spacingAndGlyphs" fill="#111" stroke="#111" stroke-width="0.15">200</text>
<text x="191.99" y="757.60" font-size="12" font-weight="normal" textLength="18.02" lengthAdjust="spacingAndGlyphs" fill="#111" stroke="#111" stroke-width="0.15">100</text>
<text x="244.29" y="757.60" font-size="12" font-weight="normal" textLength="18.02" lengthAdjust="spacingAndGlyphs" fill="#111" stroke="#111" stroke-width="0.15">125</text>
<text x="295.99" y="757.60" font-size="12" font-weight="normal" textLength="18.02" lengthAdjust="spacingAndGlyphs" fill="#111" stroke="#111" stroke-width="0.15">158</text>
<text x="351.00" y="757.60" font-size="12" font-weight="normal" textLength="12.01" lengthAdjust="spacingAndGlyphs" fill="#111" stroke="#111" stroke-width="0.15">80</text>
<text x="400.29" y="757.60" font-size="12" font-weight="normal" textLength="18.02" lengthAdjust="spacingAndGlyphs" fill="#111" stroke="#111" stroke-width="0.15">244</text>
<text x="452.49" y="757.60" font-size="12" font-weight="normal" textLength="18.02" lengthAdjust="spacingAndGlyphs" fill="#111" stroke="#111" stroke-width="0.15">199</text>
<text x="507.50" y="757.60" font-size="12" font-weight="normal" textLength="12.01" lengthAdjust="spacingAndGlyphs" fill="#111" stroke="#111" stroke-width="0.15">10</text>
<text x="559.50" y="757.60" font-size="12" font-weight="normal" textLength="12.01" lengthAdjust="spacingAndGlyphs" fill="#111" stroke="#111" stroke-width="0.15">50</text>
<text x="33.90" y="779.80" font-size="12" font-weight="bold" textLength="19.10" lengthAdjust="spacingAndGlyphs" fill="#111" stroke="#111" stroke-width="0.4">90S</text>
<text x="90.70" y="779.80" font-size="12" font-weight="normal" textLength="12.01" lengthAdjust="spacingAndGlyphs" fill="#111" stroke="#111" stroke-width="0.15">90</text>
<text x="139.99" y="779.80" font-size="12" font-weight="normal" textLength="18.02" lengthAdjust="spacingAndGlyphs" fill="#111" stroke="#111" stroke-width="0.15">200</text>
<text x="191.99" y="779.80" font-size="12" font-weight="normal" textLength="18.02" lengthAdjust="spacingAndGlyphs" fill="#111" stroke="#111" stroke-width="0.15">100</text>
<text x="244.29" y="779.80" font-size="12" font-weight="normal" textLength="18.02" lengthAdjust="spacingAndGlyphs" fill="#111" stroke="#111" stroke-width="0.15">140</text>
<text x="295.99" y="779.80" font-size="12" font-weight="normal" textLength="18.02" lengthAdjust="spacingAndGlyphs" fill="#111" stroke="#111" stroke-width="0.15">193</text>
<text x="351.00" y="779.80" font-size="12" font-weight="normal" textLength="12.01" lengthAdjust="spacingAndGlyphs" fill="#111" stroke="#111" stroke-width="0.15">90</text>
<text x="400.29" y="779.80" font-size="12" font-weight="normal" textLength="18.02" lengthAdjust="spacingAndGlyphs" fill="#111" stroke="#111" stroke-width="0.15">267</text>
<text x="452.49" y="779.80" font-size="12" font-weight="normal" textLength="18.02" lengthAdjust="spacingAndGlyphs" fill="#111" stroke="#111" stroke-width="0.15">218</text>
<text x="507.50" y="779.80" font-size="12" font-weight="normal" textLength="12.01" lengthAdjust="spacingAndGlyphs" fill="#111" stroke="#111" stroke-width="0.15">10</text>
<text x="559.50" y="779.80" font-size="12" font-weight="normal" textLength="12.01" lengthAdjust="spacingAndGlyphs" fill="#111" stroke="#111" stroke-width="0.15">56</text>
<text x="33.90" y="793.70" font-size="12" font-weight="bold" textLength="18.30" lengthAdjust="spacingAndGlyphs" fill="#111" stroke="#111" stroke-width="0.4">90L</text>
<text x="90.70" y="793.70" font-size="12" font-weight="normal" textLength="12.01" lengthAdjust="spacingAndGlyphs" fill="#111" stroke="#111" stroke-width="0.15">90</text>
<text x="139.99" y="793.70" font-size="12" font-weight="normal" textLength="18.02" lengthAdjust="spacingAndGlyphs" fill="#111" stroke="#111" stroke-width="0.15">200</text>
<text x="191.99" y="793.70" font-size="12" font-weight="normal" textLength="18.02" lengthAdjust="spacingAndGlyphs" fill="#111" stroke="#111" stroke-width="0.15">125</text>
<text x="244.29" y="793.70" font-size="12" font-weight="normal" textLength="18.02" lengthAdjust="spacingAndGlyphs" fill="#111" stroke="#111" stroke-width="0.15">140</text>
<text x="295.99" y="793.70" font-size="12" font-weight="normal" textLength="18.02" lengthAdjust="spacingAndGlyphs" fill="#111" stroke="#111" stroke-width="0.15">193</text>
<text x="351.00" y="793.70" font-size="12" font-weight="normal" textLength="12.01" lengthAdjust="spacingAndGlyphs" fill="#111" stroke="#111" stroke-width="0.15">90</text>
<text x="400.29" y="793.70" font-size="12" font-weight="normal" textLength="18.02" lengthAdjust="spacingAndGlyphs" fill="#111" stroke="#111" stroke-width="0.15">267</text>
<text x="452.49" y="793.70" font-size="12" font-weight="normal" textLength="18.02" lengthAdjust="spacingAndGlyphs" fill="#111" stroke="#111" stroke-width="0.15">218</text>
<text x="507.50" y="793.70" font-size="12" font-weight="normal" textLength="12.01" lengthAdjust="spacingAndGlyphs" fill="#111" stroke="#111" stroke-width="0.15">10</text>
<text x="559.50" y="793.70" font-size="12" font-weight="normal" textLength="12.01" lengthAdjust="spacingAndGlyphs" fill="#111" stroke="#111" stroke-width="0.15">56</text>
<text x="33.90" y="815.80" font-size="12" font-weight="bold" textLength="17.30" lengthAdjust="spacingAndGlyphs" fill="#111" stroke="#111" stroke-width="0.4">100</text>
<text x="87.69" y="815.80" font-size="12" font-weight="normal" textLength="18.02" lengthAdjust="spacingAndGlyphs" fill="#111" stroke="#111" stroke-width="0.15">104</text>
<text x="139.99" y="815.80" font-size="12" font-weight="normal" textLength="18.02" lengthAdjust="spacingAndGlyphs" fill="#111" stroke="#111" stroke-width="0.15">250</text>
<text x="191.99" y="815.80" font-size="12" font-weight="normal" textLength="18.02" lengthAdjust="spacingAndGlyphs" fill="#111" stroke="#111" stroke-width="0.15">140</text>
<text x="244.29" y="815.80" font-size="12" font-weight="normal" textLength="18.02" lengthAdjust="spacingAndGlyphs" fill="#111" stroke="#111" stroke-width="0.15">160</text>
<text x="295.99" y="815.80" font-size="12" font-weight="normal" textLength="18.02" lengthAdjust="spacingAndGlyphs" fill="#111" stroke="#111" stroke-width="0.15">217</text>
<text x="347.99" y="815.80" font-size="12" font-weight="normal" textLength="18.02" lengthAdjust="spacingAndGlyphs" fill="#111" stroke="#111" stroke-width="0.15">100</text>
<text x="400.29" y="815.80" font-size="12" font-weight="normal" textLength="18.02" lengthAdjust="spacingAndGlyphs" fill="#111" stroke="#111" stroke-width="0.15">277</text>
<text x="452.49" y="815.80" font-size="12" font-weight="normal" textLength="18.02" lengthAdjust="spacingAndGlyphs" fill="#111" stroke="#111" stroke-width="0.15">237</text>
<text x="507.50" y="815.80" font-size="12" font-weight="normal" textLength="12.01" lengthAdjust="spacingAndGlyphs" fill="#111" stroke="#111" stroke-width="0.15">12</text>
<text x="559.50" y="815.80" font-size="12" font-weight="normal" textLength="12.01" lengthAdjust="spacingAndGlyphs" fill="#111" stroke="#111" stroke-width="0.15">63</text>
<text x="33.90" y="829.30" font-size="12" font-weight="bold" textLength="17.30" lengthAdjust="spacingAndGlyphs" fill="#111" stroke="#111" stroke-width="0.4">112</text>
<text x="87.69" y="829.30" font-size="12" font-weight="normal" textLength="18.02" lengthAdjust="spacingAndGlyphs" fill="#111" stroke="#111" stroke-width="0.15">104</text>
<text x="139.99" y="829.30" font-size="12" font-weight="normal" textLength="18.02" lengthAdjust="spacingAndGlyphs" fill="#111" stroke="#111" stroke-width="0.15">250</text>
<text x="191.99" y="829.30" font-size="12" font-weight="normal" textLength="18.02" lengthAdjust="spacingAndGlyphs" fill="#111" stroke="#111" stroke-width="0.15">140</text>
<text x="244.29" y="829.30" font-size="12" font-weight="normal" textLength="18.02" lengthAdjust="spacingAndGlyphs" fill="#111" stroke="#111" stroke-width="0.15">190</text>
<text x="295.99" y="829.30" font-size="12" font-weight="normal" textLength="18.02" lengthAdjust="spacingAndGlyphs" fill="#111" stroke="#111" stroke-width="0.15">232</text>
<text x="348.39" y="829.30" font-size="12" font-weight="normal" textLength="17.22" lengthAdjust="spacingAndGlyphs" fill="#111" stroke="#111" stroke-width="0.15">112</text>
<text x="400.29" y="829.30" font-size="12" font-weight="normal" textLength="18.02" lengthAdjust="spacingAndGlyphs" fill="#111" stroke="#111" stroke-width="0.15">308</text>
<text x="452.49" y="829.30" font-size="12" font-weight="normal" textLength="18.02" lengthAdjust="spacingAndGlyphs" fill="#111" stroke="#111" stroke-width="0.15">256</text>
<text x="507.50" y="829.30" font-size="12" font-weight="normal" textLength="12.01" lengthAdjust="spacingAndGlyphs" fill="#111" stroke="#111" stroke-width="0.15">12</text>
<text x="559.50" y="829.30" font-size="12" font-weight="normal" textLength="12.01" lengthAdjust="spacingAndGlyphs" fill="#111" stroke="#111" stroke-width="0.15">70</text>
<text x="19.00" y="866.70" font-size="14" font-weight="normal" textLength="590.51" lengthAdjust="spacingAndGlyphs" fill="#111" stroke="#111" stroke-width="0.3">Motor frame sizes are based on Schäfer. Other manufacturers motors can be supplied on request as IMB 35.</text>
</svg>
</body></html>
